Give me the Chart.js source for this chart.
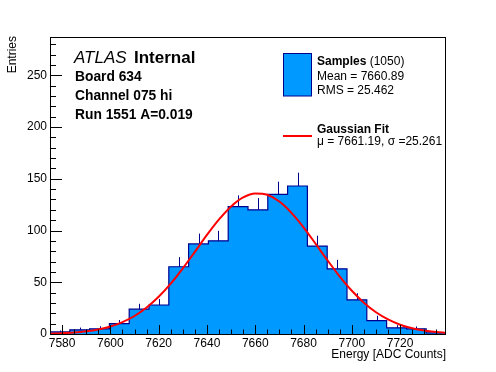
<!DOCTYPE html>
<html lang="en">
<head>
<meta charset="UTF-8">
<title>Board 634 Channel 075 hi</title>
<script src="https://cdn.jsdelivr.net/npm/chart.js"></script>
<style>
  html, body { margin: 0; padding: 0; background: #fff; }
  #wrap { width: 496px; height: 372px; }
</style>
</head>
<body>
<div id="wrap"><canvas id="hist" width="496" height="372"></canvas></div>
<script>
// histogram bins (ADC counts) and entries per bin
const binEdges = [7575, 7583.2, 7591.4, 7599.6, 7607.8, 7616, 7624.2, 7632.4, 7640.6, 7648.8, 7657,
                  7665.2, 7673.4, 7681.6, 7689.8, 7698, 7706.2, 7714.4, 7722.6, 7730.8, 7739];
const counts = [2, 4, 5, 10, 24, 28, 65, 87, 90, 123, 120, 135, 143, 85, 63, 33, 13, 6, 5, 1];
const errUp  = [1.4, 2.2, 2.5, 3.5, 5.2, 5.8, 9.3, 10, 9.7, 11, 11.3, 12.2, 12.9, 10, 8.7, 6.4, 4.6, 2.5, 2.3, 1];

// gaussian fit curve
const fitX = [7575, 7580, 7585, 7590, 7595, 7600, 7605, 7610, 7615, 7620, 7625, 7630, 7635, 7640, 7645,
              7650, 7655, 7660, 7665, 7670, 7675, 7680, 7685, 7690, 7695, 7700, 7705, 7710, 7715, 7720,
              7725, 7730, 7735, 7739];
const fitY = [0.4, 0.8, 1.4, 2.6, 4.4, 7.2, 11.5, 17.4, 25.6, 36, 48.7, 63.5, 79.4, 95.7, 110.7,
              123.3, 132, 135.8, 134.5, 128, 117.1, 103.1, 87.2, 71, 55.5, 41.8, 30.2, 21, 14.1, 9,
              5.6, 3.3, 1.9, 1.2];

const xTicks = [7580, 7600, 7620, 7640, 7660, 7680, 7700, 7720];
const yTicks = [0, 50, 100, 150, 200, 250];

const FONT = '"Liberation Sans", Arial, Helvetica, sans-serif';
const FILL = '#0099ff';
const LINE = '#00008f';

Chart.defaults.font.family = FONT;
Chart.defaults.color = '#000';

// step outline: one point per bin left edge, plus the right edge of the last bin
const stepPts = counts.map((c, i) => ({ x: binEdges[i], y: c }));
stepPts.push({ x: binEdges[binEdges.length - 1], y: counts[counts.length - 1] });
const fitPts = fitX.map((x, i) => ({ x: x, y: fitY[i] }));

const rootStyle = {
  id: 'rootStyle',
  afterDatasetDraw(chart, args) {
    if (args.index !== 0) return;
    const { ctx, scales: { x, y } } = chart;
    ctx.save();
    ctx.strokeStyle = LINE;
    ctx.lineWidth = 1;
    ctx.beginPath();
    counts.forEach((c, i) => {
      const cx = Math.round(x.getPixelForValue((binEdges[i] + binEdges[i + 1]) / 2)) + 0.5;
      ctx.moveTo(cx, y.getPixelForValue(c));
      ctx.lineTo(cx, y.getPixelForValue(c + errUp[i]));
    });
    ctx.stroke();
    ctx.restore();
  },
  afterDraw(chart) {
    const { ctx, chartArea: a, scales: { x, y } } = chart;
    ctx.save();
    ctx.strokeStyle = '#000';
    ctx.lineWidth = 1;
    ctx.strokeRect(a.left + 0.5, a.top + 0.5, a.right - a.left - 1, a.bottom - a.top);

    // inward ticks
    ctx.beginPath();
    for (let v = 0; v <= 280; v += 10) {
      const py = Math.round(y.getPixelForValue(v)) + 0.5;
      const len = v % 50 === 0 ? 12 : 6;
      ctx.moveTo(a.left, py);
      ctx.lineTo(a.left + len, py);
    }
    for (let v = 7575; v <= 7739; v += 5) {
      const px = Math.round(x.getPixelForValue(v)) + 0.5;
      const len = v % 20 === 0 ? 9 : 4.5;
      ctx.moveTo(px, a.bottom);
      ctx.lineTo(px, a.bottom - len);
    }
    ctx.stroke();

    ctx.fillStyle = '#000';
    ctx.textBaseline = 'alphabetic';

    // axis titles
    ctx.font = '12px ' + FONT;
    ctx.textAlign = 'right';
    ctx.fillText('Energy [ADC Counts]', a.right, 358);
    ctx.save();
    ctx.translate(16, 36);
    ctx.rotate(-Math.PI / 2);
    ctx.fillText('Entries', 0, 0);
    ctx.restore();

    // labels
    ctx.textAlign = 'left';
    ctx.font = 'italic 17px ' + FONT;
    ctx.fillText('ATLAS', 74, 63);
    ctx.font = 'bold 17px ' + FONT;
    ctx.fillText('Internal', 134, 63);
    ctx.font = 'bold 13.8px ' + FONT;
    ctx.fillText('Board 634', 75, 80.5);
    ctx.fillText('Channel 075 hi', 75, 100);
    ctx.fillText('Run 1551 A=0.019', 75, 119);

    // legend
    ctx.fillStyle = FILL;
    ctx.fillRect(283.5, 53.5, 28, 42.5);
    ctx.strokeStyle = LINE;
    ctx.strokeRect(283.5, 53.5, 28, 42.5);
    ctx.strokeStyle = '#ff0000';
    ctx.lineWidth = 2;
    ctx.beginPath();
    ctx.moveTo(283, 136);
    ctx.lineTo(312, 136);
    ctx.stroke();

    ctx.fillStyle = '#000';
    ctx.font = 'bold 12px ' + FONT;
    ctx.fillText('Samples', 317, 65);
    const w = ctx.measureText('Samples').width;
    ctx.font = '12px ' + FONT;
    ctx.fillText(' (1050)', 317 + w, 65);
    ctx.fillText('Mean = 7660.89', 317, 80);
    ctx.fillText('RMS = 25.462', 317, 94);
    ctx.font = 'bold 12px ' + FONT;
    ctx.fillText('Gaussian Fit', 317, 132.5);
    ctx.font = '12px ' + FONT;
    ctx.fillText('\u03bc = 7661.19, \u03c3 =25.261', 317, 144.5);
    ctx.restore();
  }
};

new Chart(document.getElementById('hist'), {
  type: 'line',
  data: {
    datasets: [
      {
        label: 'Samples',
        data: stepPts,
        stepped: true,
        fill: 'origin',
        backgroundColor: FILL,
        borderColor: LINE,
        borderWidth: 1.2,
        pointRadius: 0,
        order: 2
      },
      {
        label: 'Gaussian Fit',
        data: fitPts,
        borderColor: '#ff0000',
        borderWidth: 2,
        pointRadius: 0,
        cubicInterpolationMode: 'monotone',
        fill: false,
        order: 1
      }
    ]
  },
  options: {
    responsive: false,
    animation: false,
    devicePixelRatio: 1,
    layout: { padding: { left: 0, top: 37, right: 50, bottom: 0 } },
    plugins: { legend: { display: false }, tooltip: { enabled: false } },
    scales: {
      x: {
        type: 'linear',
        min: 7575,
        max: 7739,
        grid: { display: false, drawTicks: false },
        border: { display: false },
        afterBuildTicks: s => { s.ticks = xTicks.map(v => ({ value: v })); },
        afterFit: s => { s.height = 38; },
        ticks: { padding: 2, maxRotation: 0, autoSkip: false, font: { size: 12 }, callback: v => String(v) }
      },
      y: {
        min: 0,
        max: 287,
        grid: { display: false, drawTicks: false },
        border: { display: false },
        afterBuildTicks: s => { s.ticks = yTicks.map(v => ({ value: v })); },
        afterFit: s => { s.width = 50; },
        ticks: { padding: 3, font: { size: 12 }, callback: v => String(v) }
      }
    }
  },
  plugins: [rootStyle]
});
</script>
</body>
</html>
